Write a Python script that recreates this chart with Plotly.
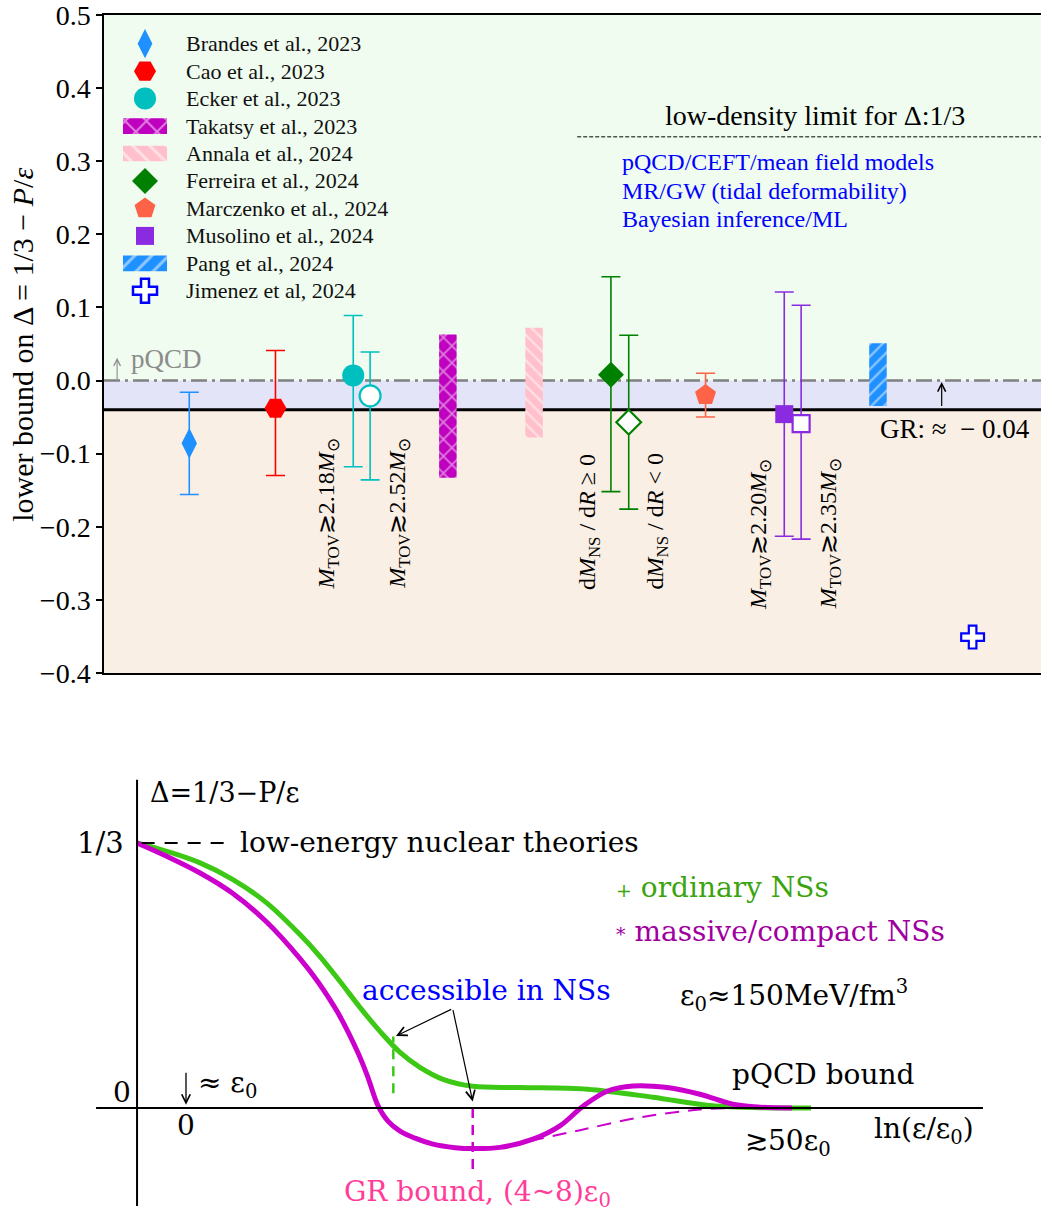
import plotly.graph_objects as go

# ======================= DATA : top panel =======================
point_study = ["Brandes et al., 2023", "Cao et al., 2023", "Ecker et al., 2023", "Ecker et al., 2023",
               "Ferreira et al., 2024", "Ferreira et al., 2024", "Marczenko et al., 2024",
               "Musolino et al., 2024", "Musolino et al., 2024", "Jimenez et al, 2024"]
point_pos = [0.91, 1.83, 2.66, 2.84, 5.41, 5.60, 6.42, 7.26, 7.44, 9.27]
point_val = [-0.086, -0.038, 0.007, -0.021, 0.008, -0.057, -0.020, -0.046, -0.059, -0.351]
point_hi = [-0.016, 0.041, 0.089, 0.039, 0.142, 0.062, 0.010, 0.121, 0.103, None]
point_lo = [-0.156, -0.130, -0.118, -0.136, -0.152, -0.176, -0.050, -0.213, -0.217, None]
point_filled = [True, True, True, False, True, False, True, True, False, False]

band_study = ["Takatsy et al., 2023", "Annala et al., 2024", "Pang et al., 2024"]
band_pos = [3.67, 4.59, 8.26]
band_hi = [0.063, 0.072, 0.051]
band_lo = [-0.133, -0.078, -0.035]

cond_text = ["<i>M</i><sub>TOV</sub>≳2.18<i>M</i><sub>⊙</sub>",
             "<i>M</i><sub>TOV</sub>≳2.52<i>M</i><sub>⊙</sub>",
             "d<i>M</i><sub>NS</sub> / d<i>R</i> ≥ 0",
             "d<i>M</i><sub>NS</sub> / d<i>R</i> &lt; 0",
             "<i>M</i><sub>TOV</sub>≳2.20<i>M</i><sub>⊙</sub>",
             "<i>M</i><sub>TOV</sub>≳2.35<i>M</i><sub>⊙</sub>"]
cond_pos = [2.39, 3.14, 5.17, 5.90, 7.00, 7.75]
cond_y = [-0.182, -0.182, -0.193, -0.193, -0.210, -0.210]

legend_order = ["Brandes et al., 2023", "Cao et al., 2023", "Ecker et al., 2023", "Takatsy et al., 2023",
                "Annala et al., 2024", "Ferreira et al., 2024", "Marczenko et al., 2024",
                "Musolino et al., 2024", "Pang et al., 2024", "Jimenez et al, 2024"]

PQCD_BOUND = 0.0
GR_BOUND = -0.04
LOW_DENSITY = 1 / 3
y_ticks = [0.5, 0.4, 0.3, 0.2, 0.1, 0.0, -0.1, -0.2, -0.3, -0.4]
y_tick_text = ["0.5", "0.4", "0.3", "0.2", "0.1", "0.0", "−0.1", "−0.2", "−0.3", "−0.4"]

method_lines = ["pQCD/CEFT/mean field models", "MR/GW (tidal deformability)", "Bayesian inference/ML"]

# ======================= DATA : bottom (schematic) panel =======================
# x = ln(eps/eps0), y = Delta
green_x = [-0.320, -0.126, 0.092, 0.307, 0.527, 0.745, 0.876, 1.007, 1.137, 1.268, 1.399, 1.529,
           1.680, 1.876, 2.183, 2.621, 3.052, 3.405, 3.706, 4.085]
green_y = [0.3334, 0.3229, 0.3083, 0.2873, 0.2580, 0.2181, 0.1905, 0.1591, 0.1265, 0.0963, 0.0699,
           0.0511, 0.0360, 0.0272, 0.0256, 0.0235, 0.0134, 0.0034, 0.0005, 0.0]
magenta_x = [-0.320, -0.126, 0.092, 0.307, 0.527, 0.745, 0.863, 0.993, 1.124, 1.190, 1.255, 1.320,
             1.399, 1.497, 1.614, 1.758, 1.876, 2.052, 2.268, 2.444, 2.595, 2.752, 2.922, 3.144,
             3.359, 3.575, 3.752, 3.961]
magenta_y = [0.3334, 0.3166, 0.2956, 0.2698, 0.2339, 0.1879, 0.1585, 0.1196, 0.0693, 0.0379, 0.0028,
             -0.0167, -0.0293, -0.0381, -0.0456, -0.0500, -0.0512, -0.0497, -0.0393, -0.0226,
             0.0021, 0.0210, 0.0277, 0.0256, 0.0172, 0.0046, 0.0009, 0.0]
magenta_alt_x = [2.248, 2.575, 2.967, 3.359, 3.590]
magenta_alt_y = [-0.0415, -0.028, -0.012, -0.002, 0.0]
green_access_x = 1.355
green_access_y = [0.0185, 0.090]
gr_bound_x = 1.874
gr_bound_y = [-0.077, 0.0072]

# ======================= STYLES =======================
TOP_FONT = "Liberation Serif"
BOT_FONT = "DejaVu Serif"
BOT_SIZE = 28
STYLE = {
    "Brandes et al., 2023": dict(symbol="diamond-tall", color="#1E90FF", size=22),
    "Cao et al., 2023": dict(symbol="hexagon2", color="#FF0000", size=22),
    "Ecker et al., 2023": dict(symbol="circle", color="#00BFBF", size=22),
    "Takatsy et al., 2023": dict(color="#BF00BF", shape="x", psize=12),
    "Annala et al., 2024": dict(color="#FFC0CB", shape="\\", psize=9),
    "Ferreira et al., 2024": dict(symbol="diamond", color="#008000", size=20),
    "Marczenko et al., 2024": dict(symbol="pentagon", color="#FF6347", size=22),
    "Musolino et al., 2024": dict(symbol="square", color="#8A2BE2", size=18),
    "Pang et al., 2024": dict(color="#1E90FF", shape="/", psize=9),
    "Jimenez et al, 2024": dict(symbol="cross", color="#0000FF", size=20),
}

fig = go.Figure()

# ---- bands (hatched bars) ----
for name, xp, hi, lo in zip(band_study, band_pos, band_hi, band_lo):
    st = STYLE[name]
    fig.add_trace(go.Bar(
        x=[xp], y=[hi - lo], base=[lo], width=[0.187], xaxis="x", yaxis="y",
        marker=dict(color=st["color"], line=dict(width=0),
                    pattern=dict(shape=st["shape"], bgcolor=st["color"], fgcolor="white",
                                 size=st["psize"], solidity=0.25)),
        hoverinfo="skip"))

# ---- points with error bars ----
for name, xp, v, hi, lo, filled in zip(point_study, point_pos, point_val, point_hi, point_lo, point_filled):
    st = STYLE[name]
    open_marker = not filled
    size = st["size"] - (1 if open_marker else 0)
    marker = dict(symbol=st["symbol"], size=size,
                  color="white" if open_marker else st["color"],
                  line=dict(color=st["color"], width=2.2 if open_marker else 0))
    err = None
    if hi is not None:
        err = dict(type="data", symmetric=False, array=[hi - v], arrayminus=[v - lo],
                   color=st["color"], thickness=1.6, width=9.5)
    fig.add_trace(go.Scatter(x=[xp], y=[v], mode="markers", marker=marker, error_y=err,
                             xaxis="x", yaxis="y", hoverinfo="skip"))

# ---- manual legend ----
LEG_MX = 0.4376
LEG_TX = 0.854
LEG_Y0 = 0.4608
LEG_DY = 0.03757
annotations = []
for i, name in enumerate(legend_order):
    yr = LEG_Y0 - i * LEG_DY
    st = STYLE[name]
    if "shape" in st:
        fig.add_trace(go.Bar(
            x=[LEG_MX], y=[0.0215], base=[yr - 0.01075], width=[0.47], xaxis="x", yaxis="y",
            marker=dict(color=st["color"], line=dict(width=0),
                        pattern=dict(shape=st["shape"], bgcolor=st["color"], fgcolor="white",
                                     size=st["psize"] + 3, solidity=0.25)),
            hoverinfo="skip"))
    else:
        is_cross = st["symbol"] == "cross"
        fig.add_trace(go.Scatter(
            x=[LEG_MX], y=[yr], mode="markers", xaxis="x", yaxis="y", hoverinfo="skip",
            marker=dict(symbol=st["symbol"], size=st["size"] - (1 if st["symbol"] == "diamond-tall" else 0),
                        color="white" if is_cross else st["color"],
                        line=dict(color=st["color"], width=2.5 if is_cross else 0))))
    annotations.append(dict(x=LEG_TX, y=yr, xref="x", yref="y", text=name, showarrow=False,
                            xanchor="left", yanchor="middle",
                            font=dict(family=TOP_FONT, size=22, color="#111")))

# ---- condition labels ----
for t, xp, yp in zip(cond_text, cond_pos, cond_y):
    annotations.append(dict(x=xp, y=yp, xref="x", yref="y", text=t, showarrow=False,
                            textangle=-90, xanchor="center", yanchor="middle",
                            font=dict(family=TOP_FONT, size=24, color="black")))

# ---- top panel texts ----
annotations += [
    dict(x=0.14, y=PQCD_BOUND + 0.031, ax=0.14, ay=PQCD_BOUND, xref="x", yref="y",
         axref="x", ayref="y", showarrow=True, arrowhead=5, arrowsize=1.2, arrowwidth=1.1,
         arrowcolor="#8C8C8C", text=""),
    dict(x=0.27, y=0.030, xref="x", yref="y", xanchor="left", yanchor="middle", showarrow=False,
         text="pQCD", font=dict(family=TOP_FONT, size=27, color="#8C8C8C")),
    dict(x=8.26, y=-0.067, xref="x", yref="y", xanchor="left", yanchor="middle", showarrow=False,
         text="GR: ≈  − 0.04", font=dict(family=TOP_FONT, size=27, color="black")),
    dict(x=8.94, y=PQCD_BOUND - 0.002, ax=8.94, ay=GR_BOUND + 0.003, xref="x", yref="y",
         axref="x", ayref="y", showarrow=True, arrowhead=5, arrowsize=1.3, arrowwidth=1.2,
         arrowcolor="black", text=""),
    dict(x=7.59, y=0.362, xref="x", yref="y", xanchor="center", yanchor="middle", showarrow=False,
         text="low-density limit for Δ:1/3", font=dict(family=TOP_FONT, size=28, color="black")),
    dict(x=0.022, y=(1215 - 344.5) / 1201, xref="paper", yref="paper", textangle=-90,
         xanchor="center", yanchor="middle", showarrow=False,
         text="lower bound on Δ = 1/3 − <i>P</i>/<i>ε</i>",
         font=dict(family=TOP_FONT, size=30, color="black")),
]
for t, yp in zip(method_lines, [0.299, 0.2596, 0.2213]):
    annotations.append(dict(x=5.507, y=yp, xref="x", yref="y", xanchor="left", yanchor="middle",
                            showarrow=False, text=t,
                            font=dict(family=TOP_FONT, size=24, color="#0000FF")))

shapes = [
    dict(type="rect", xref="x domain", yref="y", x0=0, x1=1, y0=PQCD_BOUND, y1=0.5,
         fillcolor="#EFFCEF", line_width=0, layer="below"),
    dict(type="rect", xref="x domain", yref="y", x0=0, x1=1, y0=GR_BOUND, y1=PQCD_BOUND,
         fillcolor="#E4E4F8", line_width=0, layer="below"),
    dict(type="rect", xref="x domain", yref="y", x0=0, x1=1, y0=-0.4, y1=GR_BOUND,
         fillcolor="#FAEFE5", line_width=0, layer="below"),
    dict(type="line", xref="x domain", yref="y", x0=0, x1=1, y0=PQCD_BOUND, y1=PQCD_BOUND,
         line=dict(color="#808080", width=2.5, dash="16px,5px,3px,5px"), layer="below"),
    dict(type="line", xref="x domain", yref="y", x0=0, x1=1, y0=GR_BOUND, y1=GR_BOUND,
         line=dict(color="black", width=3), layer="below"),
    dict(type="line", xref="x", yref="y", x0=5.05, x1=10, y0=LOW_DENSITY, y1=LOW_DENSITY,
         line=dict(color="black", width=1, dash="4px,2px"), layer="below"),
]

# ======================= bottom panel =======================
fig.add_trace(go.Scatter(x=green_x, y=green_y, mode="lines", xaxis="x2", yaxis="y2",
                         line=dict(color="#3CC814", width=5, shape="spline", smoothing=1.0),
                         hoverinfo="skip"))
fig.add_trace(go.Scatter(x=magenta_alt_x, y=magenta_alt_y, mode="lines", xaxis="x2", yaxis="y2",
                         line=dict(color="#CC00CC", width=2, dash="14px,9px", shape="spline"),
                         hoverinfo="skip"))
fig.add_trace(go.Scatter(x=magenta_x, y=magenta_y, mode="lines", xaxis="x2", yaxis="y2",
                         line=dict(color="#CC00CC", width=5, shape="spline", smoothing=1.0),
                         hoverinfo="skip"))
fig.add_trace(go.Scatter(x=[green_access_x, green_access_x], y=green_access_y, mode="lines",
                         xaxis="x2", yaxis="y2", hoverinfo="skip",
                         line=dict(color="#3CC814", width=2.5, dash="10px,7px")))
fig.add_trace(go.Scatter(x=[gr_bound_x, gr_bound_x], y=gr_bound_y, mode="lines",
                         xaxis="x2", yaxis="y2", hoverinfo="skip",
                         line=dict(color="#CC00CC", width=2.5, dash="10px,7px")))

shapes += [
    dict(type="line", xref="x2", yref="y2", x0=-0.588, x1=5.209, y0=0, y1=0,
         line=dict(color="black", width=2)),
    dict(type="line", xref="x2", yref="y2", x0=-0.32, x1=-0.32, y0=-0.1235, y1=0.413,
         line=dict(color="black", width=2)),
    dict(type="line", xref="x2", yref="y2", x0=-0.29, x1=0.25, y0=LOW_DENSITY, y1=LOW_DENSITY,
         line=dict(color="black", width=2, dash="13px,10px")),
]


def bt(x, y, text, color="black", size=BOT_SIZE, xanchor="left"):
    return dict(x=x, y=y, xref="x2", yref="y2", text=text, showarrow=False, xanchor=xanchor,
                yanchor="middle", font=dict(family=BOT_FONT, size=size, color=color))


annotations += [
    bt(-0.25, 0.397, "Δ=1/3−P/ε", size=27),
    bt(-0.392, LOW_DENSITY, "1/3", xanchor="right", size=29),
    bt(0.34, LOW_DENSITY, "low-energy nuclear theories"),
    bt(2.797, 0.2773, "<span style='font-size:19px'>+</span> ordinary NSs", color="#3BA30E"),
    bt(2.797, 0.2224, "<span style='font-size:19px'>*</span> massive/compact NSs", color="#A000A0"),
    bt(1.137, 0.148, "accessible in NSs", color="#0000FF"),
    bt(3.216, 0.142, "ε<sub>0</sub>≈150MeV/fm<sup>3</sup>"),
    bt(3.556, 0.0423, "pQCD bound"),
    bt(3.64, -0.043, "≳50ε<sub>0</sub>"),
    bt(4.484, -0.029, "ln(ε/ε<sub>0</sub>)"),
    bt(-0.418, 0.0196, "0", xanchor="center"),
    bt(0.0, -0.0226, "0", xanchor="center"),
    bt(0.065, 0.030, "≈ ε<sub>0</sub>"),
    bt(1.02, -0.108, "GR bound, (4~8)ε<sub>0</sub>", color="#FF3D99"),
    dict(x=0.0, y=0.004, ax=0.0, ay=0.046, xref="x2", yref="y2", axref="x2", ayref="y2",
         showarrow=True, arrowhead=5, arrowsize=1.3, arrowwidth=1.3, arrowcolor="black", text=""),
    dict(x=1.372, y=0.0905, ax=1.743, ay=0.1249, xref="x2", yref="y2", axref="x2", ayref="y2",
         showarrow=True, arrowhead=5, arrowsize=1.5, arrowwidth=1.2, arrowcolor="black", text=""),
    dict(x=1.874, y=0.008, ax=1.743, ay=0.1249, xref="x2", yref="y2", axref="x2", ayref="y2",
         showarrow=True, arrowhead=5, arrowsize=1.5, arrowwidth=1.2, arrowcolor="black", text=""),
]

H = 1230            # page is photographed into 1215 px; keep proportions
T = 14 * H / 1215
fig.update_layout(
    width=1041, height=H,
    margin=dict(l=0, r=0, t=T, b=0, pad=0),
    paper_bgcolor="white", plot_bgcolor="rgba(0,0,0,0)",
    showlegend=False, barmode="overlay",
    xaxis=dict(domain=[104 / 1041, 1], range=[0, 10], showline=True, mirror=True,
               linecolor="black", linewidth=1.5, showticklabels=False, ticks="",
               showgrid=False, zeroline=False, anchor="y"),
    yaxis=dict(domain=[(1215 - 673) / 1201, 1], range=[-0.4, 0.50001], tickvals=y_ticks,
               ticktext=y_tick_text, ticks="outside", ticklen=6, tickwidth=1.5, tickcolor="black",
               showline=True, linecolor="black", linewidth=1.5, showgrid=False, zeroline=False,
               ticklabeloverflow="allow",
               tickfont=dict(family=TOP_FONT, size=28, color="black"), anchor="x"),
    xaxis2=dict(domain=[0, 1], range=[-1.2157, 5.5882], visible=False, anchor="y2"),
    yaxis2=dict(domain=[0, 0.38], range=[-0.1335, 0.4398], visible=False, anchor="x2"),
    shapes=shapes, annotations=annotations,
)

fig.write_html("out.html")
